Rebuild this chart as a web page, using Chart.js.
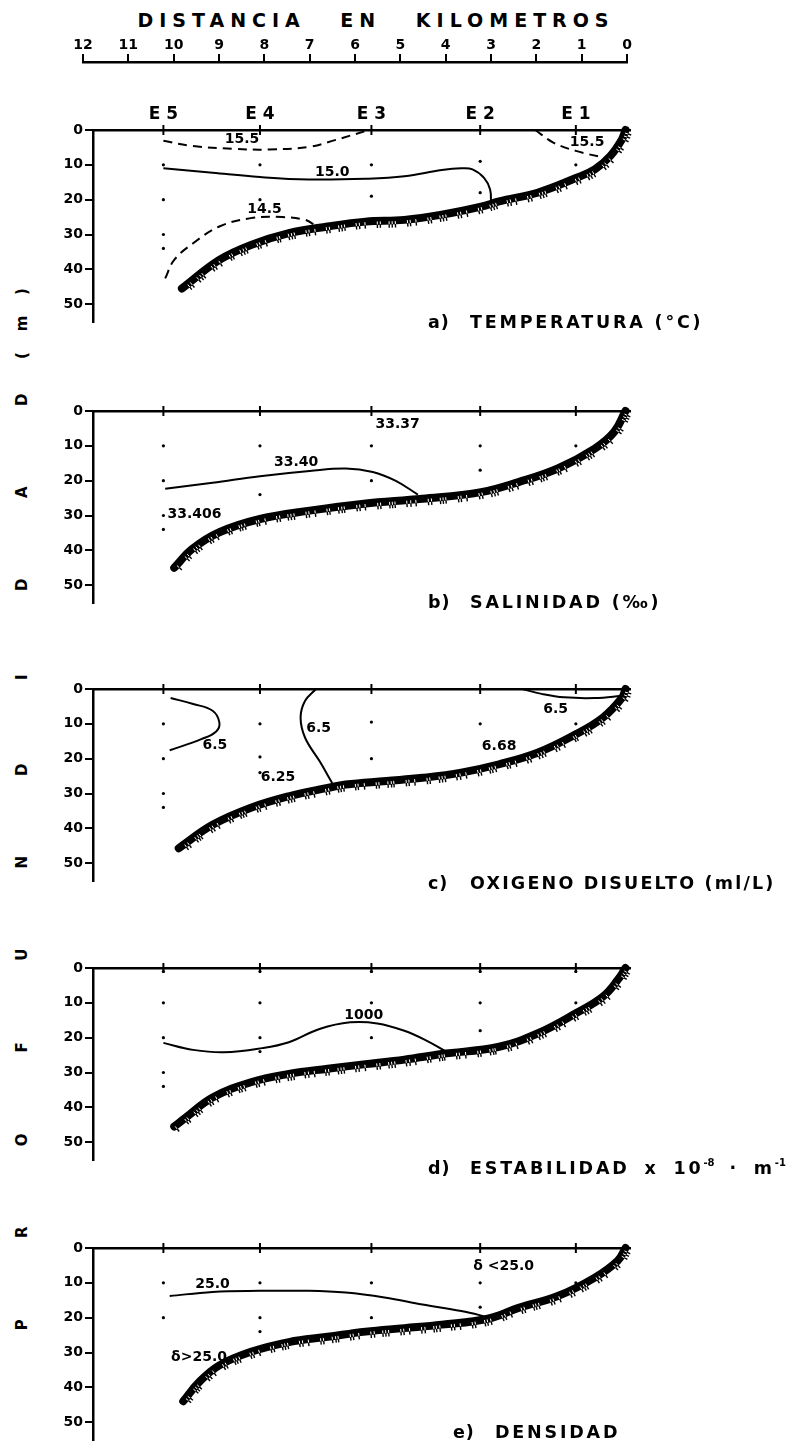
<!DOCTYPE html>
<html><head><meta charset="utf-8">
<script src="https://cdn.jsdelivr.net/npm/chart.js@4.4.1/dist/chart.umd.min.js"></script>
<style>
body{margin:0;background:#fff;}
#wrap{position:relative;width:807px;height:1443px;overflow:hidden;background:#fff;font-family:'DejaVu Sans',sans-serif;font-weight:bold;color:#000;}
canvas{position:absolute;left:0;}
.ttl{position:absolute;font-size:17.5px;letter-spacing:2.8px;white-space:nowrap;line-height:20px;}
.ttl .p{display:inline-block;width:42px;letter-spacing:1px;}
.ttl sup{font-size:10px;letter-spacing:0;vertical-align:8px;}
#dist{position:absolute;top:9px;left:126px;width:500px;text-align:center;font-size:19px;letter-spacing:6px;word-spacing:22px;white-space:nowrap;line-height:22px;}
#vlab{position:absolute;left:-528px;top:811px;width:1100px;height:20px;line-height:20px;font-size:15px;transform:rotate(-90deg);white-space:nowrap;}
#vlab span{display:inline-block;width:92.5px;text-align:center;}
#vlab span.s{width:32px;}
</style></head><body>
<div id="wrap">
  <div id="dist">DISTANCIA EN KILOMETROS</div>
  <div id="vlab"><span>P</span><span>R</span><span>O</span><span>F</span><span>U</span><span>N</span><span>D</span><span>I</span><span>D</span><span>A</span><span>D</span><span class="s" style="margin-left:-18px">(</span><span class="s">m</span><span class="s">)</span></div>
  <canvas id="ctop" width="807" height="66" style="top:0"></canvas>
  <canvas id="ca" width="807" height="232" style="top:100px"></canvas>
  <canvas id="cb" width="807" height="232" style="top:381px"></canvas>
  <canvas id="cc" width="807" height="232" style="top:659px"></canvas>
  <canvas id="cd" width="807" height="232" style="top:938px"></canvas>
  <canvas id="ce" width="807" height="232" style="top:1218px"></canvas>
  <div class="ttl" style="left:428px;top:312px"><span class="p">a)</span>TEMPERATURA (°C)</div>
  <div class="ttl" style="left:428px;top:592px"><span class="p">b)</span>SALINIDAD (‰)</div>
  <div class="ttl" style="left:428px;top:873px;letter-spacing:2.2px"><span class="p">c)</span>OXIGENO DISUELTO (ml/L)</div>
  <div class="ttl" style="left:428px;top:1153px;word-spacing:6px"><span class="p">d)</span>ESTABILIDAD x 10<sup>-8</sup> · m<sup>-1</sup></div>
  <div class="ttl" style="left:453px;top:1422px"><span class="p">e)</span>DENSIDAD</div>
</div>
<script>
// ---------- axes / stations ----------
const distanceTicks = [12, 11, 10, 9, 8, 7, 6, 5, 4, 3, 2, 1, 0];
const depthTicks = [0, 10, 20, 30, 40, 50];
const stationNames = ['E 5', 'E 4', 'E 3', 'E 2', 'E 1'];
const stationKm = [10.24, 8.1, 5.63, 3.22, 1.1];
const stationSurface = [0, 0, 0, 0, 0];

// ---------- a) Temperatura ----------
const bottomA_km = [0, 0.08, 0.34, 0.68, 1.1, 1.95, 2.8, 3.2, 4.07, 4.9, 5.76, 6.6, 7.46, 8.3, 9.0, 9.83];
const bottomA_depth = [0, 2.7, 7.5, 11.3, 13.8, 18, 20.5, 22, 24.3, 25.8, 26.3, 27.7, 29.6, 33, 37.3, 45.5];
const dotsA_km = [10.24, 10.24, 10.24, 10.24, 8.1, 8.1, 5.63, 5.63, 3.22, 3.22, 1.1];
const dotsA_depth = [10, 20, 30, 34, 10, 20, 10, 19, 9, 18, 10];
const t155a_km = [10.24, 9.6, 8.7, 7.9, 7.0, 6.44, 5.76];
const t155a_depth = [3.1, 4.6, 5.4, 5.6, 4.8, 2.9, 0.3];
const t155b_km = [2.0, 1.6, 1.1, 0.45];
const t155b_depth = [0, 3.6, 6, 8];
const t150_km = [10.24, 9.15, 8.1, 7.03, 5.76, 4.9, 4.07, 3.64, 3.39, 3.13, 3.0, 2.98];
const t150_depth = [11, 12.3, 13.5, 14.2, 14, 13.3, 11.5, 11, 11.3, 13.8, 17.1, 21.4];
const t145_km = [10.2, 10.0, 9.58, 9.0, 8.3, 7.6, 7.1, 6.86];
const t145_depth = [42.6, 37.3, 32.5, 27.7, 25.3, 25, 25.8, 27.5];
const labelsA_text = ['15.5', '15.5', '15.0', '14.5'];
const labelsA_km = [8.5, 0.85, 6.5, 8.0];
const labelsA_depth = [2.7, 3.6, 12.3, 22.9];

// ---------- b) Salinidad ----------
const bottomB_km = [0, 0.25, 0.68, 1.5, 2.37, 3.2, 4.5, 5.8, 7.0, 8.1, 9.0, 9.6, 10.0];
const bottomB_depth = [0, 6, 10.8, 16.5, 20.4, 23.3, 25.2, 26.6, 28.6, 31, 34.8, 39.6, 45];
const dotsB_km = [10.24, 10.24, 10.24, 10.24, 8.1, 8.1, 5.63, 5.63, 3.22, 3.22, 1.1];
const dotsB_depth = [10, 20, 30, 34, 10, 24, 10, 20, 10, 17, 10];
const s3340_km = [10.2, 9.15, 8.1, 7.0, 6.2, 5.6, 5.1, 4.6];
const s3340_depth = [22.3, 20.6, 18.7, 17.2, 16.5, 17.5, 20, 24];
const labelsB_text = ['33.37', '33.40', '33.406'];
const labelsB_km = [5.05, 7.3, 9.55];
const labelsB_depth = [3.8, 14.6, 29.8];

// ---------- c) Oxigeno disuelto ----------
const bottomC_km = [0, 0.08, 0.5, 1.1, 1.95, 2.8, 3.64, 4.5, 5.3, 6.2, 6.6, 7.46, 8.3, 9.15, 9.9];
const bottomC_depth = [0, 2.6, 8.2, 13, 18.3, 21.6, 24, 25.5, 26.4, 27.4, 28.4, 30.8, 34.1, 39, 45.7];
const dotsC_km = [10.24, 10.24, 10.24, 10.24, 8.1, 8.1, 8.1, 5.63, 5.63, 3.22, 1.1];
const dotsC_depth = [10, 20, 30, 34, 10, 19.5, 24, 9.5, 20, 10, 10];
const o65a_km = [10.08, 9.58, 9.15, 9.0, 9.07, 9.4, 10.1];
const o65a_depth = [2.6, 4.3, 6.25, 9.6, 12.2, 14.4, 17.6];
const o65b_km = [6.86, 7.1, 7.2, 7.1, 6.78, 6.5];
const o65b_depth = [0, 3.4, 8.2, 14, 20.7, 27];
const o65c_km = [2.29, 1.86, 1.36, 0.68, 0.04];
const o65c_depth = [0, 1.4, 2.4, 2.6, 1.9];
const labelsC_text = ['6.5', '6.5', '6.5', '6.68', '6.25'];
const labelsC_km = [9.1, 6.8, 1.55, 2.8, 7.7];
const labelsC_depth = [16.3, 11.3, 5.8, 16.6, 25.3];

// ---------- d) Estabilidad ----------
const bottomD_km = [0, 0.17, 0.5, 1.1, 1.95, 2.8, 4.07, 4.9, 5.76, 6.6, 7.46, 8.3, 9.15, 9.75, 10.0];
const bottomD_depth = [0, 3.4, 8.2, 13, 18.8, 22.6, 24.7, 26.3, 27.6, 28.9, 30.4, 32.8, 37.2, 43, 45.5];
const dotsD_km = [10.24, 10.24, 10.24, 10.24, 10.24, 8.1, 8.1, 8.1, 8.1, 5.63, 5.63, 5.63, 3.22, 3.22, 3.22, 1.1, 1.1];
const dotsD_depth = [1, 10, 20, 30, 34, 1, 10, 20, 24, 1, 10, 20, 1, 10, 18, 1, 10];
const e1000_km = [10.24, 9.58, 8.9, 8.05, 7.46, 6.78, 6.1, 5.5, 4.9, 4.4, 4.0];
const e1000_depth = [21.5, 23.5, 24.2, 23, 21.3, 17.5, 15.6, 15.9, 18, 20.9, 23.8];
const labelsD_text = ['1000'];
const labelsD_km = [5.8];
const labelsD_depth = [13.6];

// ---------- e) Densidad ----------
const bottomE_km = [0, 0.17, 0.68, 1.5, 2.37, 3.05, 4.07, 4.9, 5.76, 6.6, 7.46, 8.3, 9.0, 9.45, 9.8];
const bottomE_depth = [0, 3.6, 8.5, 13.8, 17.2, 20.3, 22, 23, 24, 25.5, 27, 29.8, 33.7, 38.5, 44];
const dotsE_km = [10.24, 10.24, 8.1, 8.1, 8.1, 5.63, 5.63, 3.22, 3.22, 1.1];
const dotsE_depth = [10, 20, 10, 20, 24, 10, 20, 10, 17, 10];
const d250_km = [10.1, 9.15, 8.1, 7.03, 6.2, 5.34, 4.5, 3.64, 3.0];
const d250_depth = [13.8, 12.6, 12.3, 12.3, 12.8, 14.2, 16.2, 18.1, 20];
const labelsE_text = ['25.0', 'δ <25.0', 'δ>25.0'];
const labelsE_km = [9.15, 2.7, 9.45];
const labelsE_depth = [10.5, 5.4, 31.5];

// ---------- helpers ----------
const FONT = 'DejaVu Sans';
const BOTTOM_INDEX = 1;
function pts(xs, ys) { return xs.map((x, i) => ({ x: x, y: ys[i] })); }

const isoLabels = {
  id: 'isoLabels',
  afterDatasetsDraw(chart, args, opts) {
    const ctx = chart.ctx, x = chart.scales.x, y = chart.scales.y;
    const t = opts.text || [], k = opts.km || [], d = opts.depth || [];
    ctx.save();
    ctx.fillStyle = '#000';
    ctx.font = 'bold 14px "' + FONT + '"';
    ctx.textAlign = 'center';
    ctx.textBaseline = 'middle';
    for (let i = 0; i < t.length; i++) ctx.fillText(t[i], x.getPixelForValue(k[i]), y.getPixelForValue(d[i]));
    ctx.restore();
  }
};

// hatch texture of the sea floor, following the library's own bezier path of the bottom dataset
const seabedHatch = {
  id: 'seabedHatch',
  afterDatasetsDraw(chart) {
    const meta = chart.getDatasetMeta(BOTTOM_INDEX);
    const P = meta.data;
    if (!P || P.length < 2) return;
    const ctx = chart.ctx;
    const pattern = [1, 1, 1, 0, 0, 1, 1, 0, 0, 0, 1, 0, 1, 1, 0, 0, 0];
    const step = 3.0;
    let acc = 0, k = 0;
    ctx.save();
    ctx.lineCap = 'butt';
    for (let i = 0; i < P.length - 1; i++) {
      const a = P[i], b = P[i + 1];
      const x0 = a.x, y0 = a.y, x1 = a.cp2x ?? a.x, y1 = a.cp2y ?? a.y, x2 = b.cp1x ?? b.x, y2 = b.cp1y ?? b.y, x3 = b.x, y3 = b.y;
      const N = 60;
      let px = x0, py = y0;
      for (let s = 1; s <= N; s++) {
        const t = s / N, u = 1 - t;
        const qx = u*u*u*x0 + 3*u*u*t*x1 + 3*u*t*t*x2 + t*t*t*x3;
        const qy = u*u*u*y0 + 3*u*u*t*y1 + 3*u*t*t*y2 + t*t*t*y3;
        const dx = qx - px, dy = qy - py;
        const len = Math.hypot(dx, dy);
        acc += len;
        if (acc >= step && len > 0) {
          acc -= step;
          if (pattern[k % pattern.length]) {
            const nx = dy / len, ny = -dx / len;
            ctx.strokeStyle = '#fff';
            ctx.lineWidth = 1;
            ctx.beginPath();
            ctx.moveTo(qx + nx * 0.5, qy + ny * 0.5);
            ctx.lineTo(qx + nx * 3.8, qy + ny * 3.8);
            ctx.stroke();
            ctx.strokeStyle = '#000';
            ctx.lineWidth = 1.4;
            ctx.beginPath();
            ctx.moveTo(qx + nx * 3.5, qy + ny * 3.5);
            ctx.lineTo(qx + nx * 7, qy + ny * 7);
            ctx.stroke();
          }
          k++;
        }
        px = qx; py = qy;
      }
    }
    ctx.restore();
  }
};

function makePanel(id, p) {
  const ds = [];
  ds.push({ data: pts(stationKm, stationSurface), showLine: false, pointStyle: 'line', rotation: 90,
    pointRadius: 5, pointBorderWidth: 2, pointBorderColor: '#000', borderColor: '#000', order: 0, clip: false });
  ds.push({ data: pts(p.bottomKm, p.bottomDepth), showLine: true, borderColor: '#000', borderWidth: 8, borderCapStyle: 'round',
    pointRadius: 0, tension: 0.4, order: 1, clip: false });
  p.lines.forEach(l => ds.push({ data: pts(l.km, l.depth), showLine: true, borderColor: '#000', borderWidth: 2,
    borderDash: l.dashed ? [9, 6] : [], pointRadius: 0, tension: 0.4, order: 2, clip: false }));
  ds.push({ data: pts(p.dotsKm, p.dotsDepth), showLine: false, pointRadius: 1.6, pointBackgroundColor: '#000',
    pointBorderWidth: 0, order: 3 });

  new Chart(document.getElementById(id), {
    type: 'scatter',
    data: { datasets: ds },
    plugins: [seabedHatch, isoLabels],
    options: {
      responsive: false, animation: false, events: [],
      layout: { padding: { left: 0, right: 177, top: 0, bottom: 6 } },
      plugins: { legend: { display: false }, tooltip: { enabled: false },
        isoLabels: { text: p.labelText, km: p.labelKm, depth: p.labelDepth } },
      scales: {
        x: { type: 'linear', position: 'top', min: -0.1, max: 11.8, reverse: true,
          afterFit: s => { s.height = 30; },
          afterBuildTicks: s => { s.ticks = stationKm.map(v => ({ value: v })); },
          grid: { display: false, drawTicks: false },
          border: { display: true, color: '#000', width: 2.5 },
          ticks: { display: p.showStations, autoSkip: false, maxRotation: 0, color: '#000', padding: 5,
            callback: (v, i) => stationNames[i], font: { family: FONT, weight: 'bold', size: 17 } } },
        y: { type: 'linear', min: 0, max: 55, reverse: true,
          afterFit: s => { s.width = 93; },
          afterBuildTicks: s => { s.ticks = depthTicks.map(v => ({ value: v })); },
          grid: { display: true, drawOnChartArea: false, drawTicks: true, tickLength: 8, color: '#000', lineWidth: 2 },
          border: { display: true, color: '#000', width: 2.5 },
          ticks: { color: '#000', padding: 2, font: { family: FONT, weight: 'bold', size: 14 } } }
      }
    }
  });
}

// ---------- top distance axis ----------
new Chart(document.getElementById('ctop'), {
  type: 'scatter',
  data: { datasets: [] },
  options: {
    responsive: false, animation: false, events: [],
    layout: { padding: { left: 83, right: 180, top: 0, bottom: 0 } },
    plugins: { legend: { display: false }, tooltip: { enabled: false } },
    scales: {
      x: { type: 'linear', position: 'top', min: 0, max: 12, reverse: true,
        afterFit: s => { s.height = 62; },
        afterBuildTicks: s => { s.ticks = distanceTicks.map(v => ({ value: v })); },
        grid: { display: true, drawOnChartArea: false, drawTicks: true, tickLength: 8, color: '#000', lineWidth: 2 },
        border: { display: true, color: '#000', width: 2.5 },
        ticks: { color: '#000', padding: 0, autoSkip: false, maxRotation: 0, font: { family: FONT, weight: 'bold', size: 14 } } },
      y: { display: false, min: 0, max: 1 }
    }
  }
});

makePanel('ca', { showStations: true, bottomKm: bottomA_km, bottomDepth: bottomA_depth, dotsKm: dotsA_km, dotsDepth: dotsA_depth,
  lines: [ { km: t155a_km, depth: t155a_depth, dashed: true }, { km: t155b_km, depth: t155b_depth, dashed: true },
           { km: t150_km, depth: t150_depth, dashed: false }, { km: t145_km, depth: t145_depth, dashed: true } ],
  labelText: labelsA_text, labelKm: labelsA_km, labelDepth: labelsA_depth });
makePanel('cb', { showStations: false, bottomKm: bottomB_km, bottomDepth: bottomB_depth, dotsKm: dotsB_km, dotsDepth: dotsB_depth,
  lines: [ { km: s3340_km, depth: s3340_depth, dashed: false } ],
  labelText: labelsB_text, labelKm: labelsB_km, labelDepth: labelsB_depth });
makePanel('cc', { showStations: false, bottomKm: bottomC_km, bottomDepth: bottomC_depth, dotsKm: dotsC_km, dotsDepth: dotsC_depth,
  lines: [ { km: o65a_km, depth: o65a_depth, dashed: false }, { km: o65b_km, depth: o65b_depth, dashed: false },
           { km: o65c_km, depth: o65c_depth, dashed: false } ],
  labelText: labelsC_text, labelKm: labelsC_km, labelDepth: labelsC_depth });
makePanel('cd', { showStations: false, bottomKm: bottomD_km, bottomDepth: bottomD_depth, dotsKm: dotsD_km, dotsDepth: dotsD_depth,
  lines: [ { km: e1000_km, depth: e1000_depth, dashed: false } ],
  labelText: labelsD_text, labelKm: labelsD_km, labelDepth: labelsD_depth });
makePanel('ce', { showStations: false, bottomKm: bottomE_km, bottomDepth: bottomE_depth, dotsKm: dotsE_km, dotsDepth: dotsE_depth,
  lines: [ { km: d250_km, depth: d250_depth, dashed: false } ],
  labelText: labelsE_text, labelKm: labelsE_km, labelDepth: labelsE_depth });
</script>
</body></html>
